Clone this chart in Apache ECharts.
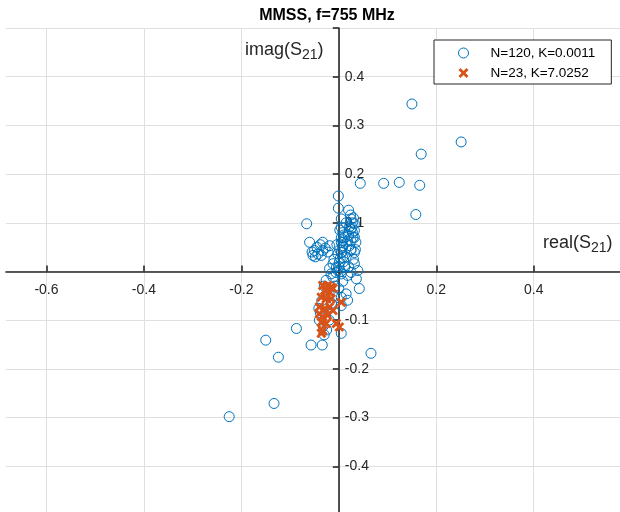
<!DOCTYPE html>
<html><head><meta charset="utf-8">
<script src="https://cdn.jsdelivr.net/npm/echarts@6/dist/echarts.min.js"></script>
<style>html,body{margin:0;padding:0;background:#fff}#c{width:620px;height:512px}</style>
</head><body><div id="c"></div>
<script>
const titleText = 'MMSS, f=755 MHz';
const seriesNames = ['N=120, K=0.0011', 'N=23, K=7.0252'];
const xTickValues = [-0.6, -0.4, -0.2, 0.2, 0.4];
const xTickMarks = [-0.6, -0.4, -0.2, 0, 0.2, 0.4];
const yTickValues = [-0.4, -0.3, -0.2, -0.1, 0.1, 0.2, 0.3, 0.4];

const blueReal = [0.150,0.251,0.169,0.044,0.092,0.124,0.166,0.158,-0.066,-0.001,
 -0.001,0.020,0.024,0.025,0.032,0.005,0.027,0.005,-0.060,-0.033,
 -0.019,-0.050,-0.043,-0.053,-0.033,-0.036,0.008,0.008,0.006,0.003,
 0.029,0.025,0.028,0.032,-0.012,-0.019,-0.005,0.001,-0.002,0.012,
 -0.016,0.005,0.018,0.039,0.036,0.042,0.015,0.005,0.005,-0.087,
 -0.057,-0.034,0.005,0.066,-0.150,-0.124,-0.133,-0.225,-0.041,0.018,
 -0.026,0.005,0.008,0.012,0.005,0.008,0.005,-0.002,0.008,0.025,
 0.032,0.032,0.025,0.022,0.025,0.032,
 -0.030,-0.020,-0.035,-0.025,-0.015,-0.038,-0.028,-0.020,-0.032,-0.025,
 -0.010,-0.040,-0.008,-0.030,
 0.000,0.004,-0.006,0.010,-0.010,0.015,0.002,-0.004,0.010,0.002,
 0.015,0.018,0.020,-0.012,0.008,0.025,0.030,0.000,
 0.028,0.030,0.022,0.035,0.020,0.034,
 -0.045,-0.055,-0.038,-0.028,-0.048,-0.022];
const blueImag = [0.344,0.266,0.241,0.181,0.181,0.183,0.177,0.117,0.098,0.155,
 0.130,0.126,0.116,0.108,0.098,0.108,0.091,0.069,0.060,0.060,
 0.053,0.043,0.036,0.033,0.043,0.033,0.063,0.053,0.039,0.027,
 0.070,0.046,0.080,0.016,0.016,0.006,0.009,0.019,0.002,0.009,
 -0.005,-0.005,-0.008,0.002,-0.015,-0.035,-0.046,-0.053,-0.070,-0.117,
 -0.151,-0.151,-0.127,-0.168,-0.141,-0.176,-0.271,-0.298,-0.076,-0.059,
 -0.018,0.091,0.080,0.070,0.060,0.050,0.039,0.036,0.029,0.087,
 0.084,0.070,0.063,0.053,0.043,0.039,
 -0.030,-0.045,-0.060,-0.070,-0.065,-0.085,-0.095,-0.100,-0.112,-0.120,
 -0.050,-0.100,-0.030,-0.130,
 0.010,0.000,-0.002,0.020,0.025,0.030,0.045,0.055,0.075,0.085,
 0.100,0.062,0.010,-0.012,-0.020,-0.002,0.025,-0.035,
 0.100,0.110,0.092,0.060,0.075,0.045,
 0.050,0.040,0.055,0.048,0.030,0.040];

const orangeReal = [-0.033,-0.023,-0.016,-0.029,-0.019,-0.012,-0.036,-0.026,-0.016,0.005,
 -0.040,-0.029,-0.019,-0.012,-0.040,-0.033,-0.023,-0.036,-0.026,-0.033,
 -0.036,-0.005,0.001];
const orangeImag = [-0.029,-0.029,-0.032,-0.039,-0.042,-0.035,-0.053,-0.056,-0.056,-0.063,
 -0.073,-0.076,-0.073,-0.080,-0.087,-0.093,-0.090,-0.104,-0.107,-0.121,
 -0.127,-0.107,-0.114];

const blueData = blueReal.map((v, i) => [v, blueImag[i]]);
const orangeData = orangeReal.map((v, i) => [v, orangeImag[i]]);

const FONT = '"Liberation Sans", Arial, Helvetica, sans-serif';
const TXT = '#262626';
const xMark = 'path://M0,2 L2,0 L5,3 L8,0 L10,2 L7,5 L10,8 L8,10 L5,7 L2,10 L0,8 L3,5 Z';

const chart = echarts.init(document.getElementById('c'), null, {renderer: 'canvas'});
chart.setOption({
  animation: false,
  backgroundColor: '#ffffff',
  title: {
    text: titleText, left: 322, top: 3, textAlign: 'center',
    textStyle: {fontFamily: FONT, fontSize: 16, fontWeight: 'bold', color: '#000'}
  },
  grid: {left: 6, right: 0, top: 28, bottom: -3, containLabel: false, outerBoundsMode: 'none'},
  legend: {
    orient: 'vertical', left: 434, top: 40,
    padding: [6, 16, 4, 24], itemGap: 6, itemWidth: 44, itemHeight: 10,
    backgroundColor: '#fff', borderColor: TXT, borderWidth: 1, borderRadius: 0,
    textStyle: {fontFamily: FONT, fontSize: 13.5, color: '#000'},
    data: [{name: seriesNames[0], itemStyle: {borderWidth: 1}}, {name: seriesNames[1], icon: xMark}]
  },
  xAxis: {
    type: 'value', min: -0.683, max: 0.577, position: 'bottom', offset: -243.5,
    axisLine: {onZero: false, lineStyle: {color: TXT, width: 1.6}},
    axisTick: {inside: true, length: 6, customValues: xTickMarks, lineStyle: {color: TXT, width: 1.6}},
    axisLabel: {customValues: xTickValues, margin: 12, fontFamily: FONT, fontSize: 14, color: TXT,
      formatter: v => String(v)},
    splitLine: {show: true, lineStyle: {color: '#dfdfdf', width: 1}}
  },
  yAxis: {
    type: 'value', min: -0.5, max: 0.5, interval: 0.1, position: 'left', offset: -332.8,
    axisLine: {onZero: false, lineStyle: {color: TXT, width: 1.6}},
    axisTick: {inside: false, length: 6, lineStyle: {color: TXT, width: 1.6}},
    axisLabel: {inside: true, customValues: yTickValues, margin: 6, fontFamily: FONT, fontSize: 14, color: TXT,
      formatter: v => String(v)},
    splitLine: {show: true, lineStyle: {color: '#dfdfdf', width: 1}}
  },
  graphic: [
    {type: 'text', left: 245, top: 41, z: 10, style: {
      text: '{a|imag(S}{b|21}{a|)}', fill: TXT,
      rich: {a: {fontFamily: FONT, fontSize: 18, lineHeight: 21, verticalAlign: 'top', fill: TXT},
             b: {fontFamily: FONT, fontSize: 14, lineHeight: 13, verticalAlign: 'bottom', fill: TXT}}}},
    {type: 'text', left: 543, top: 234, z: 10, style: {
      text: '{a|real(S}{b|21}{a|)}', fill: TXT,
      rich: {a: {fontFamily: FONT, fontSize: 18, lineHeight: 21, verticalAlign: 'top', fill: TXT},
             b: {fontFamily: FONT, fontSize: 14, lineHeight: 13, verticalAlign: 'bottom', fill: TXT}}}}
  ],
  series: [
    {name: seriesNames[0], type: 'scatter', data: blueData, symbol: 'circle', symbolSize: 10,
     itemStyle: {color: 'rgba(255,255,255,0)', borderColor: '#0072BD', borderWidth: 1, opacity: 1}},
    {name: seriesNames[1], type: 'scatter', data: orangeData, symbol: xMark, symbolSize: 10,
     itemStyle: {color: '#D95319', opacity: 1}}
  ]
});
</script></body></html>
